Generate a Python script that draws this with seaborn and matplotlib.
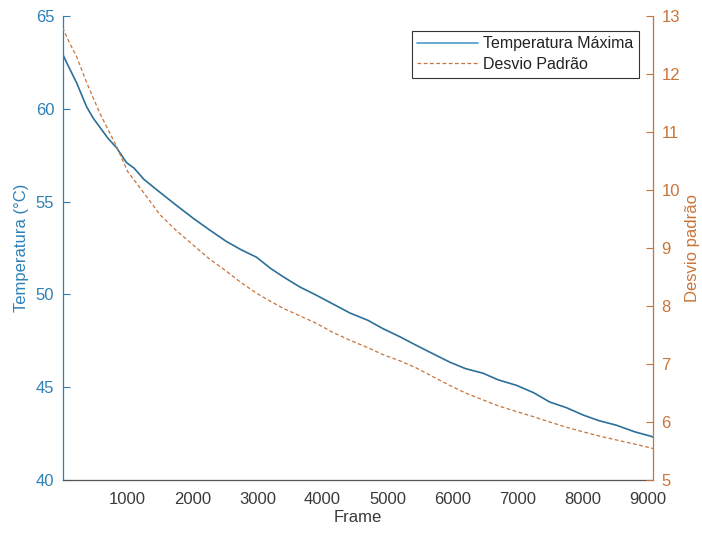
import matplotlib

matplotlib.use("Agg")
import matplotlib.pyplot as plt
import pandas as pd
import seaborn as sns

# Temperatura máxima (°C) por frame
TEMP_FRAMES = [0, 60, 215, 370, 470, 574, 700, 830, 983, 1100, 1250, 1497, 1750, 2010,
               2250, 2520, 2750, 2985, 3200, 3394, 3650, 3908, 4150, 4420, 4700, 4932,
               5200, 5446, 5700, 5958, 6200, 6471, 6700, 6984, 7250, 7497, 7750, 8010,
               8250, 8523, 8800, 9060, 9090]
TEMP_VALUES = [62.95, 62.5, 61.4, 60.1, 59.5, 59.0, 58.4, 57.9, 57.1, 56.8, 56.2, 55.5,
               54.8, 54.1, 53.5, 52.85, 52.4, 52.0, 51.4, 50.95, 50.4, 49.95, 49.5, 49.0,
               48.6, 48.15, 47.7, 47.25, 46.8, 46.35, 46.0, 45.75, 45.4, 45.1, 44.7, 44.2,
               43.9, 43.5, 43.2, 42.95, 42.6, 42.35, 42.3]

# Desvio padrão por frame
STD_FRAMES = [0, 100, 215, 370, 574, 830, 1000, 1250, 1500, 1750, 2010, 2250, 2520, 2750,
              2985, 3200, 3394, 3650, 3908, 4150, 4420, 4700, 4932, 5200, 5446, 5700,
              5958, 6200, 6471, 6700, 6984, 7250, 7497, 7750, 8010, 8250, 8523, 8800,
              9060, 9090]
STD_VALUES = [12.8, 12.55, 12.3, 11.85, 11.32, 10.75, 10.32, 9.95, 9.57, 9.3, 9.05, 8.82,
              8.6, 8.4, 8.22, 8.08, 7.96, 7.83, 7.70, 7.55, 7.41, 7.28, 7.16, 7.05, 6.93,
              6.78, 6.63, 6.5, 6.38, 6.28, 6.18, 6.09, 6.0, 5.91, 5.83, 5.76, 5.69, 5.62,
              5.55, 5.54]

X_TICKS = [1000, 2000, 3000, 4000, 5000, 6000, 7000, 8000, 9000]
LEFT_TICKS = [40, 45, 50, 55, 60, 65]
RIGHT_TICKS = [5, 6, 7, 8, 9, 10, 11, 12, 13]

BLUE_AXIS = "#2f80b6"
BLUE_LINE = "#2c6f98"
ORANGE = "#c9743a"
DARK = "#3a3a3a"


def main() -> None:
    sns.set_theme(style="white")
    plt.rcParams["font.family"] = ["Liberation Sans", "DejaVu Sans"]

    temp = pd.DataFrame({"frame": TEMP_FRAMES, "temp": TEMP_VALUES})
    std = pd.DataFrame({"frame": STD_FRAMES, "std": STD_VALUES})

    fig = plt.figure(figsize=(7.02, 5.36), dpi=100)
    ax = fig.add_axes([0.0893, 0.1045, 0.8413, 0.8657])
    ax2 = ax.twinx()

    sns.lineplot(data=temp, x="frame", y="temp", ax=ax, color=BLUE_LINE, linewidth=1.2,
                 label="Temperatura Máxima", legend=False)
    sns.lineplot(data=std, x="frame", y="std", ax=ax2, color=ORANGE, linewidth=0.9,
                 label="Desvio Padrão", legend=False)
    ax2.lines[0].set_dashes((3, 2))

    ax.set_xlim(1, 9090)
    ax.set_ylim(40, 65)
    ax2.set_ylim(5, 13)
    ax.set_xticks(X_TICKS)
    ax.set_yticks(LEFT_TICKS)
    ax2.set_yticks(RIGHT_TICKS)

    for a in (ax, ax2):
        for side in ("top", "left", "right", "bottom"):
            a.spines[side].set_visible(False)
        a.grid(False)
    ax.spines["left"].set_visible(True)
    ax.spines["left"].set_color(BLUE_AXIS)
    ax.spines["bottom"].set_visible(True)
    ax.spines["bottom"].set_color("#555555")
    ax2.spines["right"].set_visible(True)
    ax2.spines["right"].set_color(ORANGE)
    for s in (ax.spines["left"], ax.spines["bottom"], ax2.spines["right"]):
        s.set_linewidth(0.9)

    ax.tick_params(axis="x", direction="in", length=5, width=0.8, colors="#555555",
                   labelcolor=DARK, labelsize=12, pad=9)
    ax.tick_params(axis="y", direction="in", length=5, width=0.8, colors=BLUE_AXIS,
                   labelsize=12, pad=6, left=True)
    ax2.tick_params(axis="y", direction="in", length=5, width=0.8, colors=ORANGE,
                    labelsize=12, pad=6, right=True)

    ax.set_xlabel("Frame", fontsize=12, color=DARK, labelpad=2)
    ax.set_ylabel("Temperatura (°C)", fontsize=12, color=BLUE_AXIS, labelpad=5)
    ax2.set_ylabel("Desvio padrão", fontsize=12, color=ORANGE, rotation=90)
    # the reference crops this label at the right edge; keep it just inside
    ax2.yaxis.set_label_coords(1.054, 0.5)

    handles = ax.get_lines()[:1] + ax2.get_lines()[:1]
    leg = ax2.legend(handles, [h.get_label() for h in handles], loc="upper right",
                     bbox_to_anchor=(0.975, 0.968), fontsize=11.5, frameon=True,
                     fancybox=False, framealpha=1, edgecolor="#333333",
                     borderpad=0.35, handlelength=3.8, handletextpad=0.3,
                     labelspacing=0.35, borderaxespad=0)
    leg.get_frame().set_linewidth(0.8)
    for t in leg.get_texts():
        t.set_color("#222222")
    leg.get_lines()[0].set_color("#4a9cc8")

    fig.savefig("out.png", dpi=100)
    plt.close(fig)


if __name__ == "__main__":
    main()
